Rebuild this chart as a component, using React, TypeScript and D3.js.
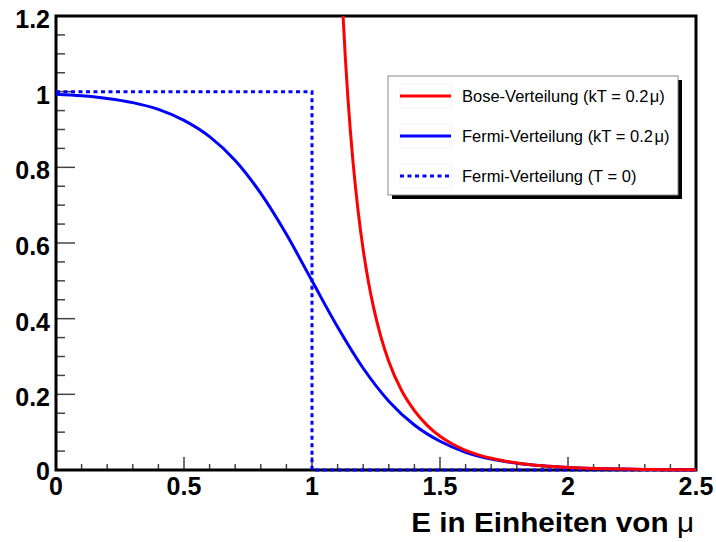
import React from "react";
import * as d3 from "d3";

// Fermi distribution kT = 0.2 mu
const fermiE = [0, 0.1, 0.2, 0.3, 0.4, 0.5, 0.6, 0.7, 0.8, 0.9, 1.0, 1.1, 1.2, 1.3, 1.4, 1.5, 1.6, 1.7, 1.8, 1.9, 2.0, 2.1, 2.2, 2.3, 2.4, 2.5];
const fermiF = [0.993, 0.989, 0.982, 0.971, 0.953, 0.924, 0.881, 0.818, 0.731, 0.623, 0.5, 0.378, 0.269, 0.182, 0.119, 0.076, 0.047, 0.029, 0.018, 0.011, 0.0067, 0.0041, 0.0025, 0.0015, 0.0009, 0.0006];

// Bose distribution kT = 0.2 mu
const boseE = [1.12, 1.13, 1.14, 1.15, 1.16, 1.17, 1.18, 1.19, 1.2, 1.22, 1.24, 1.27, 1.3, 1.35, 1.4, 1.45, 1.5, 1.55, 1.6, 1.65, 1.7, 1.75, 1.8, 1.9, 2.0, 2.1, 2.2, 2.3, 2.4, 2.5];
const boseF = [1.217, 1.092, 0.986, 0.895, 0.816, 0.747, 0.685, 0.631, 0.582, 0.499, 0.431, 0.35, 0.287, 0.21, 0.157, 0.118, 0.089, 0.068, 0.052, 0.040, 0.031, 0.024, 0.0187, 0.0112, 0.0068, 0.0041, 0.0025, 0.0015, 0.0009, 0.0006];

// Fermi distribution T = 0 (step)
const stepE = [0, 1, 1, 2.5];
const stepF = [1, 1, 0, 0];

const xMajor = [0, 0.5, 1, 1.5, 2, 2.5];
const xMajorLabels = ["0", "0.5", "1", "1.5", "2", "2.5"];
const yMajor = [0, 0.2, 0.4, 0.6, 0.8, 1, 1.2];
const yMajorLabels = ["0", "0.2", "0.4", "0.6", "0.8", "1", "1.2"];

const legendLabels = ["Bose-Verteilung (kT = 0.2", "Fermi-Verteilung (kT = 0.2", "Fermi-Verteilung (T = 0)"];
const xTitle = "E in Einheiten von ";

export default function App() {
  const W = 716, H = 542;
  const x = d3.scaleLinear().domain([0, 2.5]).range([56, 696]);
  const y = d3.scaleLinear().domain([0, 1.2]).range([470, 16]);

  const line = d3.line<[number, number]>().x(d => x(d[0])).y(d => y(d[1])).curve(d3.curveMonotoneX);
  const lineLin = d3.line<[number, number]>().x(d => x(d[0])).y(d => y(d[1]));

  const fermiPts = fermiE.map((e, i) => [e, fermiF[i]] as [number, number]);
  const bosePts = boseE.map((e, i) => [e, boseF[i]] as [number, number]);
  const stepPts = stepE.map((e, i) => [e, stepF[i]] as [number, number]);

  const xMinor = d3.range(0, 26).map(i => i * 0.1).filter(v => Math.abs(v * 2 - Math.round(v * 2)) > 1e-6);
  const yMinor = d3.range(0, 25).map(i => i * 0.05).filter(v => Math.abs(v * 5 - Math.round(v * 5)) > 1e-6);

  const font = "'Liberation Sans', Arial, Helvetica, sans-serif";
  const tickColor = "#444";

  const legX = 388, legY = 76, legW = 290, legH = 119;
  const rowY = [96, 136, 176];
  const legColors = ["#ff0000", "#0000ff", "#0000ff"];
  const legDash = [null, null, "4 3.5"];

  return (
    <div style={{ position: "fixed", left: 0, top: 0, width: W, height: H, background: "#fff" }}>
      <svg width={W} height={H} style={{ display: "block" }}>
        <defs>
          <clipPath id="plotclip">
            <rect x={x(0)} y={y(1.2)} width={x(2.5) - x(0)} height={y(0) - y(1.2) + 4} />
          </clipPath>
        </defs>
        <rect x={0} y={0} width={W} height={H} fill="#fff" />

        {/* ticks */}
        {yMajor.map((v, i) => (
          <line key={"ym" + i} x1={x(0)} x2={x(0) + 19} y1={y(v)} y2={y(v)} stroke={tickColor} strokeWidth={1.5} />
        ))}
        {yMinor.map((v, i) => (
          <line key={"yn" + i} x1={x(0)} x2={x(0) + 9} y1={y(v)} y2={y(v)} stroke={tickColor} strokeWidth={1.5} />
        ))}
        {xMajor.map((v, i) => (
          <line key={"xm" + i} x1={x(v)} x2={x(v)} y1={y(0)} y2={y(0) - 13} stroke={tickColor} strokeWidth={1.5} />
        ))}
        {xMinor.map((v, i) => (
          <line key={"xn" + i} x1={x(v)} x2={x(v)} y1={y(0)} y2={y(0) - 6} stroke={tickColor} strokeWidth={1.5} />
        ))}

        {/* frame */}
        <rect x={x(0)} y={y(1.2)} width={x(2.5) - x(0)} height={y(0) - y(1.2)} fill="none" stroke="#000" strokeWidth={3} />

        {/* curves */}
        <g clipPath="url(#plotclip)">
          <path d={lineLin(stepPts) || ""} fill="none" stroke="#0000ff" strokeWidth={3} strokeDasharray="4 3.5" />
          <path d={line(fermiPts) || ""} fill="none" stroke="#0000ff" strokeWidth={3} />
          <path d={line(bosePts) || ""} fill="none" stroke="#ff0000" strokeWidth={3} />
        </g>

        {/* tick labels */}
        {yMajor.map((v, i) => (
          <text key={"yl" + i} x={50} y={y(v) + (v === 0 ? 10 : 12)} textAnchor="end" fontFamily={font} fontWeight="bold" fontSize={25} fill="#000">
            {yMajorLabels[i]}
          </text>
        ))}
        {xMajor.map((v, i) => (
          <text key={"xl" + i} x={x(v)} y={495} textAnchor="middle" fontFamily={font} fontWeight="bold" fontSize={25} fill="#000">
            {xMajorLabels[i]}
          </text>
        ))}

        {/* axis title */}
        <g transform="translate(694,532) scale(1.1,1)">
          <text x={0} y={0} textAnchor="end" fontFamily={font} fontWeight="bold" fontSize={27} fill="#000">
            {xTitle}
            <tspan fontWeight="normal">μ</tspan>
          </text>
        </g>

        {/* legend */}
        <rect x={legX + 4} y={legY + 4} width={legW} height={legH} fill="#000" />
        <rect x={legX} y={legY} width={legW} height={legH} fill="#fff" stroke="#888" strokeWidth={1} />
        {rowY.map((ry, i) => (
          <g key={"lg" + i}>
            <rect x={400} y={ry - 12} width={51} height={24} fill="none" stroke="#f2f2f2" strokeWidth={1} />
            <line x1={400} x2={451} y1={ry} y2={ry} stroke={legColors[i]} strokeWidth={3} strokeDasharray={legDash[i] || undefined} />
            <text x={462} y={ry + 6} fontFamily={font} fontSize={16.5} fill="#000">
              {legendLabels[i]}
              {i < 2 ? (<><tspan dx={1.5}>μ</tspan>)</>) : null}
            </text>
          </g>
        ))}
      </svg>
    </div>
  );
}
